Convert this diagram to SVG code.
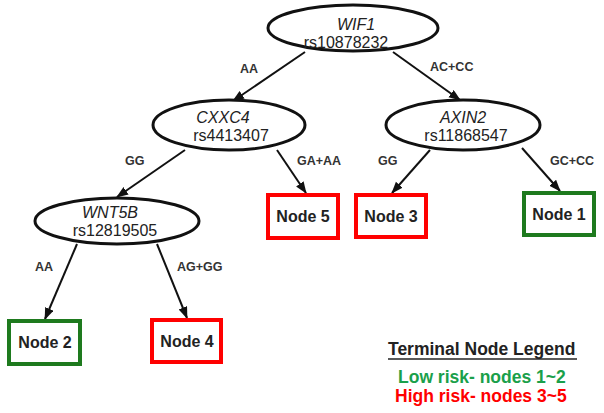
<svg xmlns="http://www.w3.org/2000/svg" width="604" height="413" viewBox="0 0 604 413">
<defs>
<marker id="ah" markerUnits="userSpaceOnUse" markerWidth="12" markerHeight="10" refX="11" refY="4.5" orient="auto">
<path d="M0,0 L12,4.5 L0,9 z" fill="#111"/>
</marker>
<style>
.ell{fill:#fff;stroke:#111;stroke-width:3}
.gene{font-family:"Liberation Sans",Arial,sans-serif;font-size:16px;font-style:italic;fill:#222;text-anchor:middle}
.rs{font-family:"Liberation Sans",Arial,sans-serif;font-size:16px;fill:#222;text-anchor:middle}
.edge{stroke:#111;stroke-width:2;fill:none;marker-end:url(#ah)}
.lbl{font-family:"Liberation Sans",Arial,sans-serif;font-size:12.5px;font-weight:bold;fill:#333}
.box{fill:#fff;stroke-width:4}
.red{stroke:#ff0000}
.grn{stroke:#1e7a1e}
.nt{font-family:"Liberation Sans",Arial,sans-serif;font-size:16px;font-weight:bold;fill:#222;text-anchor:middle}
.leg{font-family:"Liberation Sans",Arial,sans-serif;font-size:17.5px;font-weight:bold}
</style>
</defs>
<rect width="604" height="413" fill="#fff"/>
<g id="connectors">
<line class="edge" x1="305" y1="52" x2="233" y2="101"/>
<line class="edge" x1="393" y1="52" x2="460" y2="100"/>
<line class="edge" x1="185" y1="150" x2="117" y2="197"/>
<line class="edge" x1="277" y1="150" x2="306" y2="193"/>
<line class="edge" x1="430" y1="150" x2="392" y2="193"/>
<line class="edge" x1="522" y1="148" x2="560" y2="191"/>
<line class="edge" x1="77" y1="244" x2="45" y2="319"/>
<line class="edge" x1="157" y1="244" x2="187" y2="318"/>
<text class="lbl" x="240" y="73">AA</text>
<text class="lbl" x="430" y="71">AC+CC</text>
<text class="lbl" x="125" y="165">GG</text>
<text class="lbl" x="297" y="165">GA+AA</text>
<text class="lbl" x="378" y="165">GG</text>
<text class="lbl" x="550" y="165">GC+CC</text>
<text class="lbl" x="35" y="271">AA</text>
<text class="lbl" x="177" y="271">AG+GG</text>
</g>
<g id="wif1">
<ellipse class="ell" cx="353" cy="28" rx="85" ry="23"/>
<text class="gene" x="356" y="30">WIF1</text>
<text class="rs" x="346" y="48">rs10878232</text>
</g>
<g id="cxxc4">
<ellipse class="ell" cx="229" cy="125" rx="76" ry="25"/>
<text class="gene" x="223" y="123">CXXC4</text>
<text class="rs" x="231" y="141">rs4413407</text>
</g>
<g id="axin2">
<ellipse class="ell" cx="463" cy="125" rx="77" ry="25"/>
<text class="gene" x="463" y="123">AXIN2</text>
<text class="rs" x="466" y="141">rs11868547</text>
</g>
<g id="wnt5b">
<ellipse class="ell" cx="117" cy="221" rx="82" ry="23"/>
<text class="gene" x="110" y="218">WNT5B</text>
<text class="rs" x="115" y="236">rs12819505</text>
</g>
<g id="node5">
<rect class="box red" x="268" y="195" width="70" height="43"/>
<text class="nt" x="303" y="222">Node 5</text>
</g>
<g id="node3">
<rect class="box red" x="356" y="195" width="70" height="42"/>
<text class="nt" x="391" y="222">Node 3</text>
</g>
<g id="node1">
<rect class="box grn" x="524" y="193" width="70" height="42"/>
<text class="nt" x="559" y="220">Node 1</text>
</g>
<g id="node2">
<rect class="box grn" x="9" y="321" width="71" height="43"/>
<text class="nt" x="45" y="348">Node 2</text>
</g>
<g id="node4">
<rect class="box red" x="152" y="320" width="69" height="42"/>
<text class="nt" x="187" y="347">Node 4</text>
</g>
<g id="legend">
<text class="leg" x="388" y="355" fill="#222">Terminal Node Legend</text>
<line x1="388" y1="359" x2="577" y2="359" stroke="#222" stroke-width="1.5"/>
<text class="leg" x="398" y="383" fill="#1aa04a">Low risk- nodes 1~2</text>
<text class="leg" x="395" y="402" fill="#ff0000">High risk- nodes 3~5</text>
</g>
</svg>
